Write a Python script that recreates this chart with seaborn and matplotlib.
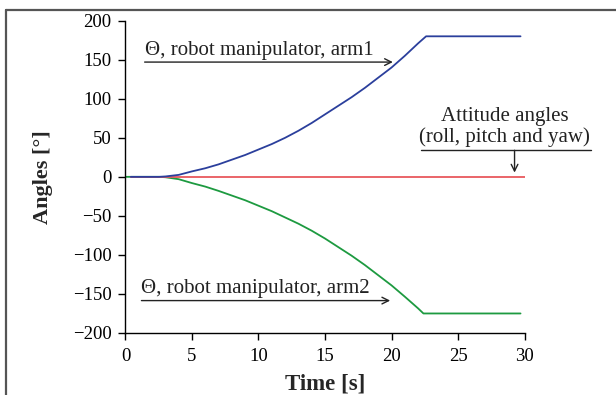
import matplotlib
matplotlib.use("Agg")
import matplotlib.pyplot as plt
from matplotlib.lines import Line2D
import seaborn as sns
import pandas as pd

# ---- data ----
time_arm1 = [0.4, 1, 2, 2.5, 3, 4, 5, 6, 7, 8, 9, 10, 11, 12, 13, 14, 15,
             16, 17, 18, 19, 20, 21, 22, 22.6, 29.7]
angle_arm1 = [0, 0, 0, 0, 0.5, 2.5, 7, 11, 16, 22, 28, 35, 42, 50, 59, 69, 80,
              91, 102, 114, 127, 140, 155, 171, 180, 180]

time_arm2 = [0, 1, 2, 2.5, 3, 4, 5, 6, 7, 8, 9, 10, 11, 12, 13, 14, 15,
             16, 17, 18, 19, 20, 21, 22, 22.4, 29.7]
angle_arm2 = [0, 0, 0, 0, -0.5, -3, -8, -12.5, -18, -24, -30, -37, -44, -52, -60, -69, -79,
              -90, -101, -113, -126, -139, -153.5, -168.5, -175, -175]

time_att = [0.4, 30]
angle_att = [0, 0]

series_names = ["arm1", "arm2", "attitude"]
series_colors = ["#2b3f9c", "#1d9a40", "#e8585d"]

x_ticks = [0, 5, 10, 15, 20, 25, 30]
y_ticks = [-200, -150, -100, -50, 0, 50, 100, 150, 200]

label_arm1 = "Θ, robot manipulator, arm1"
label_arm2 = "Θ, robot manipulator, arm2"
label_att = "Attitude angles\n(roll, pitch and yaw)"

df = pd.concat([
    pd.DataFrame({"Time": time_arm1, "Angle": angle_arm1, "series": "arm1"}),
    pd.DataFrame({"Time": time_arm2, "Angle": angle_arm2, "series": "arm2"}),
    pd.DataFrame({"Time": time_att, "Angle": angle_att, "series": "attitude"}),
], ignore_index=True)

sns.set_style("ticks")
plt.rcParams["font.family"] = ["Liberation Serif", "DejaVu Serif"]

fig = plt.figure(figsize=(6.16, 3.95), dpi=100)
ax = fig.add_axes([0.2037, 0.157, 0.6478, 0.7906])

sns.lineplot(data=df, x="Time", y="Angle", hue="series",
             hue_order=["arm2", "attitude", "arm1"],
             palette={n: c for n, c in zip(series_names, series_colors)},
             linewidth=1.3, legend=False, ax=ax, sort=False, estimator=None)

ax.set_xlim(0, 30)
ax.set_ylim(-200, 200)
ax.set_xticks(x_ticks)
ax.set_yticks(y_ticks)
ax.set_yticklabels([str(v).replace("-", "\u2212") for v in y_ticks])
ax.margins(0)
for s in ["top", "right"]:
    ax.spines[s].set_visible(False)
for s in ["left", "bottom"]:
    ax.spines[s].set_color("black")
    ax.spines[s].set_linewidth(1.0)
ax.tick_params(axis="both", direction="out", length=5, width=1.0,
               colors="black", labelsize=13.5)
ax.tick_params(axis="x", pad=6)
ax.tick_params(axis="y", pad=5)

ax.set_xlabel("Time [s]", fontsize=16.5, fontweight="bold", labelpad=6)
ax.set_ylabel("Angles [°]", fontsize=16, fontweight="bold", labelpad=14)

txtcol = "#222222"
arrow_kw = dict(arrowstyle="->", color=txtcol, lw=1.0, shrinkA=0, shrinkB=0,
                mutation_scale=12)
afs = 15

# arm1 annotation
ax.text(1.44, 150, label_arm1, fontsize=afs, color=txtcol, ha="left", va="bottom")
ax.annotate("", xy=(20.1, 147), xytext=(1.44, 147), arrowprops=arrow_kw)

# arm2 annotation
ax.text(1.2, -155.5, label_arm2, fontsize=afs, color=txtcol, ha="left", va="bottom")
ax.annotate("", xy=(19.9, -158.5), xytext=(1.2, -158.5), arrowprops=arrow_kw)

# attitude annotation
ax.text(28.5, 38, label_att, fontsize=afs, color=txtcol, ha="center", va="bottom",
        linespacing=1.1)
ax.add_line(Line2D([22.2, 35], [34, 34], color=txtcol, lw=1.0, clip_on=False))
ax.annotate("", xy=(29.25, 5.5), xytext=(29.25, 34), arrowprops=arrow_kw,
            annotation_clip=False)

# figure frame (top and left edges, as in the cropped reference)
fig.add_artist(Line2D([5.5 / 616, 1.0], [1 - 10 / 395, 1 - 10 / 395],
                      color="#555555", lw=1.6, transform=fig.transFigure))
fig.add_artist(Line2D([5.5 / 616, 5.5 / 616], [0, 1 - 10 / 395],
                      color="#555555", lw=1.6, transform=fig.transFigure))

fig.savefig("out.png", dpi=100)
